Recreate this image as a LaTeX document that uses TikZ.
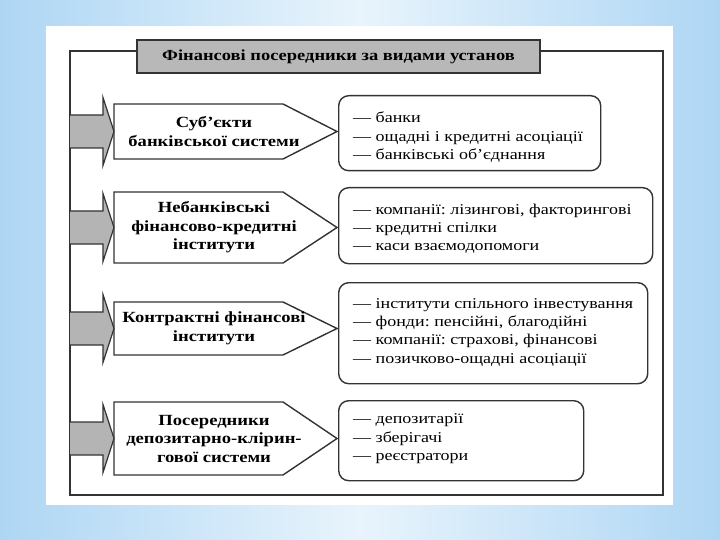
\documentclass[tikz,border=0pt]{standalone}
\usepackage{fontspec}
\setmainfont[FakeStretch=1.2]{Liberation Serif}
\usetikzlibrary{calc}
\definecolor{linegray}{HTML}{333333}
\definecolor{titlegray}{HTML}{B8B8B8}
\definecolor{arrowgray}{HTML}{B4B4B4}
\definecolor{bgblue}{HTML}{AED6F4}
\definecolor{bglight}{HTML}{E8F4FC}
\frenchspacing
\begin{document}
\begin{tikzpicture}[x=1pt,y=-1pt,
  frameline/.style={draw=linegray, line width=1.4pt},
  titlebox/.style={draw=linegray, line width=1.6pt, fill=titlegray, minimum width=403pt, minimum height=33pt, inner sep=0pt, font=\bfseries\fontsize{15.4}{18}\selectfont},
  pent/.style={draw=linegray, line width=1.4pt, fill=white},
  pentlabel/.style={align=center, font=\bfseries\fontsize{15.5}{18.5}\selectfont, inner sep=0pt},
  blockarrow/.style={draw=linegray, line width=1.2pt, fill=arrowgray},
  listbox/.style={draw=linegray, line width=1.4pt, rounded corners=10pt, anchor=north west, inner sep=0pt},
  listtext/.style={align=left, anchor=west, inner sep=0pt, font=\fontsize{15}{18.3}\selectfont}
]
\useasboundingbox (0,0) rectangle (720,540);
\shade[left color=bgblue, right color=bgblue, middle color=bglight] (0,0) rectangle (720,540);
\fill[white] (46,26) rectangle (673,505);
\draw[frameline] (70,51) rectangle (663,495);
\node[titlebox] (title) at (338.5,56.5) {Фінансові посередники за видами установ};

% row 1
\draw[pent] (114,104) -- (283,104) -- (337,131.5) -- (283,159) -- (114,159) -- cycle;
\coordinate (p1) at (114,131.5);
\coordinate (a1) at (70,131.5);
\node[pentlabel] (l1) at (214,131.5) {Суб'єкти\\банківської системи};
\node[listbox, minimum width=262pt, minimum height=75pt] (r1) at (338,95) {};
\node[listtext] (t1) at ($(r1.west)+(15,4)$) {— банки\\— ощадні і кредитні асоціації\\— банківські об'єднання};

% row 2
\draw[pent] (114,192) -- (283,192) -- (337,227.5) -- (283,263) -- (114,263) -- cycle;
\coordinate (p2) at (114,227.5);
\coordinate (a2) at (70,227.5);
\node[pentlabel] (l2) at (214,227.5) {Небанківські\\фінансово-кредитні\\інститути};
\node[listbox, minimum width=314pt, minimum height=76pt] (r2) at (338,187) {};
\node[listtext] (t2) at ($(r2.west)+(15,3)$) {— компанії: лізингові, факторингові\\— кредитні спілки\\— каси взаємодопомоги};

% row 3
\draw[pent] (114,302) -- (283,302) -- (337,328.5) -- (283,355) -- (114,355) -- cycle;
\coordinate (p3) at (114,328.5);
\coordinate (a3) at (70,328.5);
\node[pentlabel] (l3) at (214,328.5) {Контрактні фінансові\\інститути};
\node[listbox, minimum width=309pt, minimum height=101pt] (r3) at (338,282) {};
\node[listtext] (t3) at ($(r3.west)+(15,-1)$) {— інститути спільного інвестування\\— фонди: пенсійні, благодійні\\— компанії: страхові, фінансові\\— позичково-ощадні асоціації};

% row 4
\draw[pent] (114,402) -- (283,402) -- (337,438.5) -- (283,475) -- (114,475) -- cycle;
\coordinate (p4) at (114,438.5);
\coordinate (a4) at (70,438.5);
\node[pentlabel] (l4) at (214,438.5) {Посередники\\депозитарно-клірин-\\гової системи};
\node[listbox, minimum width=245pt, minimum height=80pt] (r4) at (338,400) {};
\node[listtext] (t4) at ($(r4.west)+(15,-2)$) {— депозитарії\\— зберігачі\\— реєстратори};

% block arrows from frame to the boxes
\foreach \i in {1,2,3,4}{
  \draw[blockarrow] ($(a\i)+(0,-16.5)$) -- ($(p\i)+(-11,-16.5)$) -- ($(p\i)+(-11,-34)$) -- (p\i)
    -- ($(p\i)+(-11,34)$) -- ($(p\i)+(-11,16.5)$) -- ($(a\i)+(0,16.5)$);
}
\end{tikzpicture}
\end{document}
